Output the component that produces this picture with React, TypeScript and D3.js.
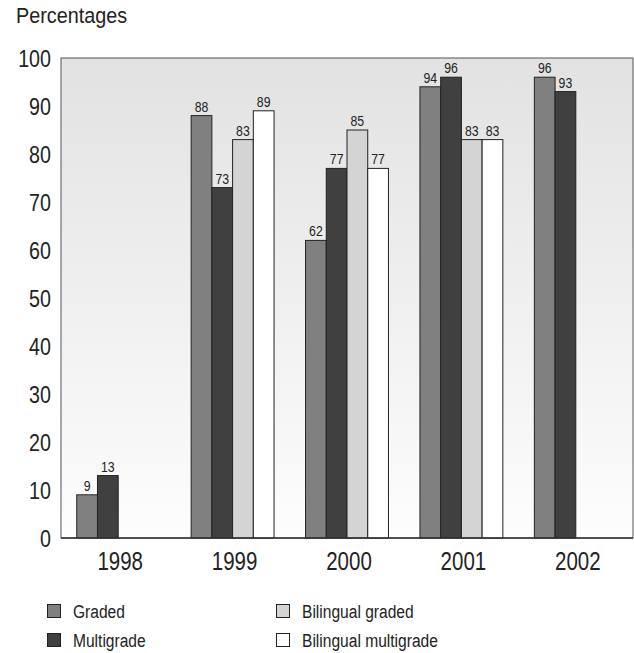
import React from "react";
import * as d3 from "d3";

const categories = ["1998", "1999", "2000", "2001", "2002"];
const seriesNames = ["Graded", "Multigrade", "Bilingual graded", "Bilingual multigrade"];
const graded = [9, 88, 62, 94, 96];
const multigrade = [13, 73, 77, 96, 93];
const bilingualGraded: (number | null)[] = [null, 83, 85, 83, null];
const bilingualMultigrade: (number | null)[] = [null, 89, 77, 83, null];
const yTicks = [0, 10, 20, 30, 40, 50, 60, 70, 80, 90, 100];
const colors = ["#808080", "#404040", "#d4d4d4", "#ffffff"];

const W = 634;
const H = 653;
const m = { left: 61, top: 58, right: 1, bottom: 115 };
const FONT = "'Liberation Sans', Arial, sans-serif";

function T(props: {
  x: number;
  y: number;
  size: number;
  sx?: number;
  anchor?: "start" | "middle" | "end";
  dy?: string;
  children: React.ReactNode;
}) {
  return (
    <text
      transform={`translate(${props.x},${props.y}) scale(${props.sx ?? 0.82},1)`}
      textAnchor={props.anchor || "start"}
      dy={props.dy}
      fontSize={props.size}
      fill="#222"
      fontFamily={FONT}
    >
      {props.children}
    </text>
  );
}

export default function App() {
  const values = [graded, multigrade, bilingualGraded, bilingualMultigrade];
  const x0 = d3.scaleBand<string>().domain(categories).range([m.left, W - m.right]).padding(0);
  const x1 = d3
    .scaleBand<string>()
    .domain(seriesNames)
    .range([0, x0.bandwidth()])
    .paddingInner(0)
    .paddingOuter(0.76);
  const y = d3.scaleLinear().domain([0, 100]).range([H - m.bottom, m.top]);

  const plotW = W - m.right - m.left;
  const plotH = H - m.bottom - m.top;

  const legendPos = [
    { x: 47, y: 611 },
    { x: 47, y: 640 },
    { x: 276, y: 611 },
    { x: 276, y: 640 },
  ];

  return (
    <svg
      width={W}
      height={H}
      style={{ position: "absolute", left: 0, top: 0, background: "#fff" }}
      fontFamily={FONT}
    >
      <defs>
        <linearGradient id="bg" x1="0" y1="0" x2="0" y2="1">
          <stop offset="0" stopColor="#e2e2e2" />
          <stop offset="1" stopColor="#fdfdfd" />
        </linearGradient>
      </defs>
      <T x={16} y={23} size={22} sx={0.9}>
        Percentages
      </T>
      <rect x={m.left} y={m.top} width={plotW} height={plotH} fill="url(#bg)" stroke="#555" strokeWidth={1} />
      {yTicks.map((t) => (
        <T key={t} x={51} y={y(t)} dy="0.36em" anchor="end" size={24}>
          {t}
        </T>
      ))}
      {categories.map((c, i) => (
        <g key={c}>
          {values.map((s, j) => {
            const v = s[i];
            if (v == null) return null;
            const bx = (x0(c) as number) + (x1(seriesNames[j]) as number);
            return (
              <g key={j}>
                <rect
                  x={bx}
                  y={y(v)}
                  width={x1.bandwidth()}
                  height={y(0) - y(v)}
                  fill={colors[j]}
                  stroke="#222"
                  strokeWidth={1}
                />
                <T x={bx + x1.bandwidth() / 2} y={y(v) - 4} anchor="middle" size={15}>
                  {v}
                </T>
              </g>
            );
          })}
          <T x={(x0(c) as number) + x0.bandwidth() / 2 + 2} y={570} anchor="middle" size={25}>
            {c}
          </T>
        </g>
      ))}
      <line x1={m.left} x2={W - m.right} y1={y(0)} y2={y(0)} stroke="#333" strokeWidth={1.5} />
      {seriesNames.map((s, j) => (
        <g key={s}>
          <rect
            x={legendPos[j].x + 0.5}
            y={legendPos[j].y - 6.5}
            width={13}
            height={13}
            fill={colors[j]}
            stroke="#222"
            strokeWidth={1}
          />
          <T x={legendPos[j].x + 26} y={legendPos[j].y} dy="0.36em" size={19}>
            {s}
          </T>
        </g>
      ))}
    </svg>
  );
}
